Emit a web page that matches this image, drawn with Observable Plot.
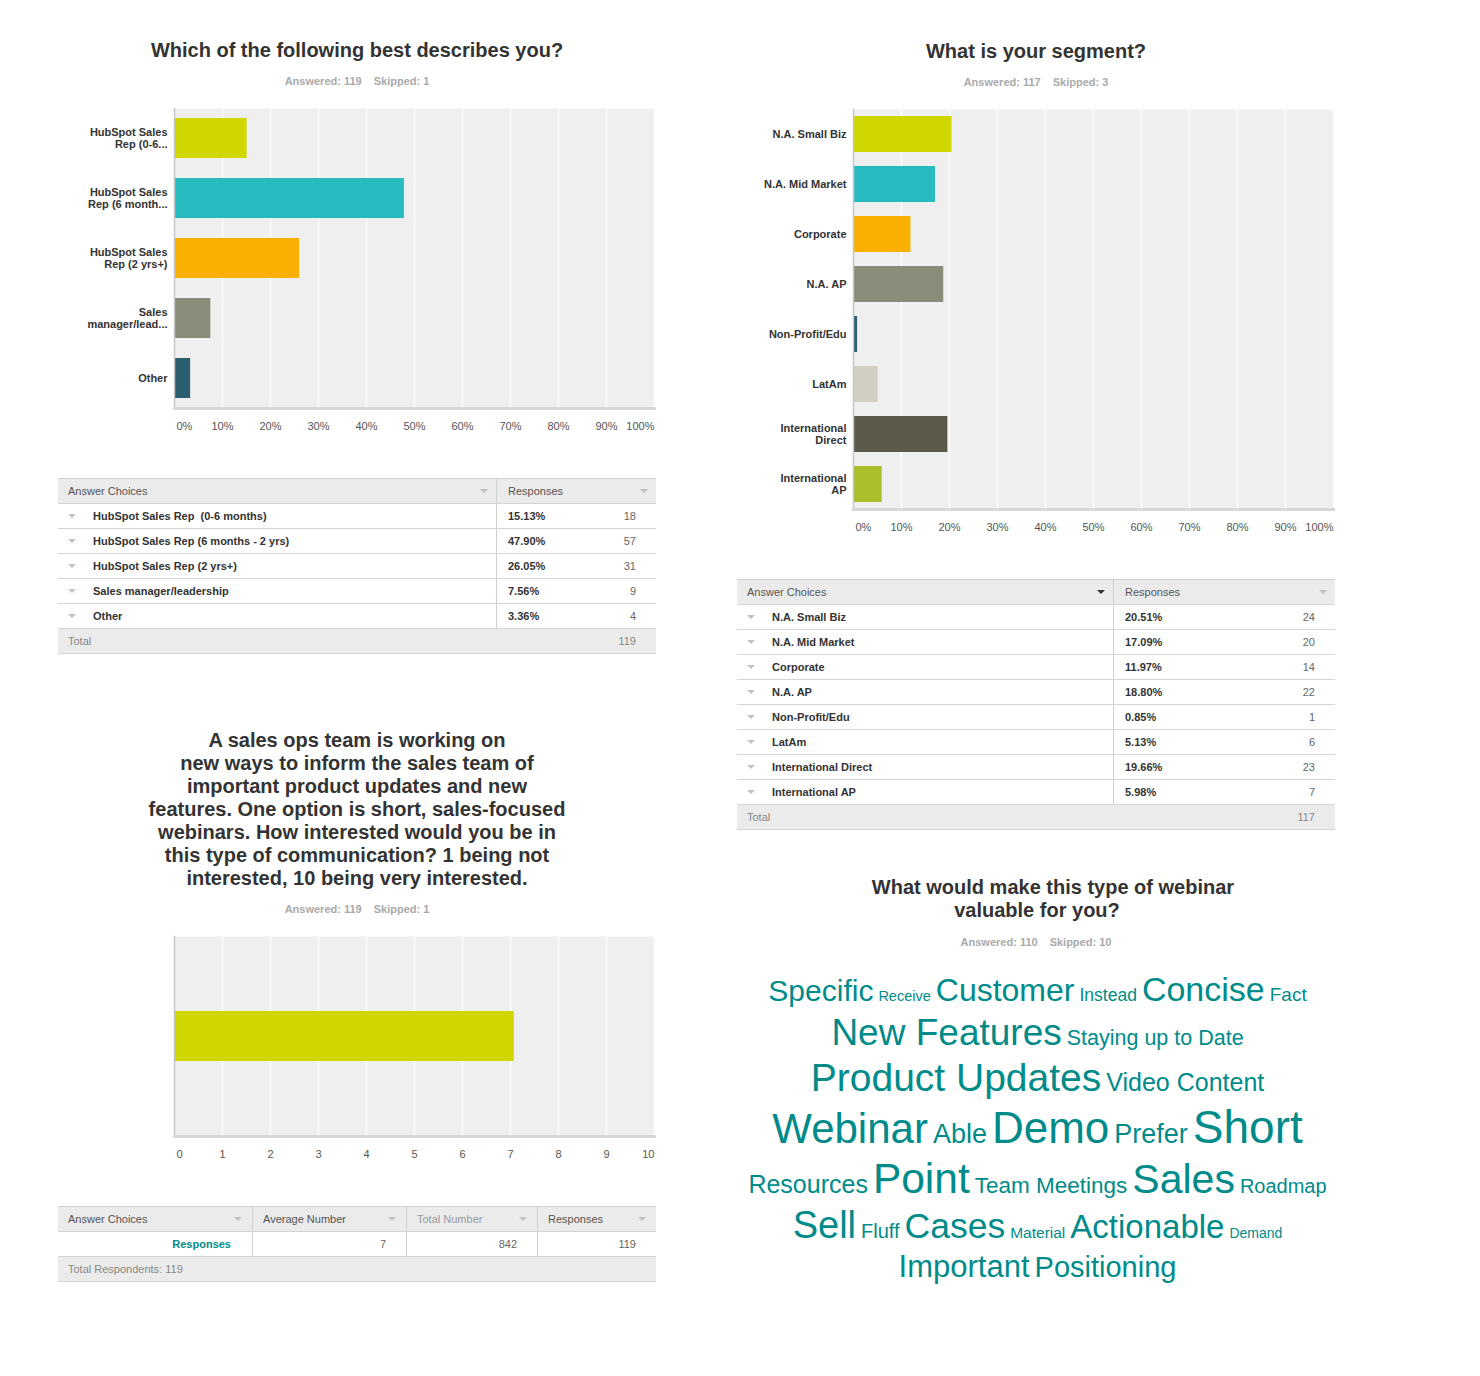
<!DOCTYPE html>
<html>
<head>
<meta charset="utf-8">
<script src="https://cdn.jsdelivr.net/npm/d3@7"></script>
<script src="https://cdn.jsdelivr.net/npm/@observablehq/plot@0.6"></script>
<style>
  body{margin:0;width:1480px;height:1376px;position:relative;background:#fff;font-family:"Liberation Sans",Arial,Helvetica,sans-serif;}
  .abs{position:absolute}
  .title{font-size:20px;font-weight:bold;color:#333;text-align:center;line-height:23px;width:600px}
  .sub{font-size:11px;font-weight:bold;color:#aaa;text-align:center;line-height:14px;width:600px}
  .sub span{margin:0 6px}
  .tbl{position:absolute;border-top:1px solid #cfcfcf;font-size:11px;color:#333}
  .row{display:flex;height:25px;box-sizing:border-box;border-bottom:1px solid #d4d4d4;line-height:24px;position:relative}
  .hdr,.tot{background:#ebebeb;color:#555}
  .tot{color:#888}
  .cell{position:relative;box-sizing:border-box;height:100%;padding-left:10px;white-space:pre}
  .sep{border-right:1px solid #cfcfcf}
  .tri{position:absolute;top:10px;width:0;height:0;border-left:4px solid transparent;border-right:4px solid transparent;border-top:4px solid #c2c2c2}
  .num{position:absolute;right:20px;color:#666;font-weight:normal}
  .lab{font-weight:bold;position:absolute;left:35px}
  svg{overflow:visible}
</style>
</head>
<body>
<div id="root"></div>
<script>
// ---------- DATA ----------
const q1Title = "Which of the following best describes you?";
const q1Answered = 119, q1Skipped = 1;
const q1Choices = ["HubSpot Sales Rep  (0-6 months)", "HubSpot Sales Rep (6 months - 2 yrs)", "HubSpot Sales Rep (2 yrs+)", "Sales manager/leadership", "Other"];
const q1AxisLabels = ["HubSpot Sales\nRep (0-6...", "HubSpot Sales\nRep (6 month...", "HubSpot Sales\nRep (2 yrs+)", "Sales\nmanager/lead...", "Other"];
const q1Percent = [15.13, 47.90, 26.05, 7.56, 3.36];
const q1Count = [18, 57, 31, 9, 4];
const q1Total = 119;

const q2Title = "What is your segment?";
const q2Answered = 117, q2Skipped = 3;
const q2Choices = ["N.A. Small Biz", "N.A. Mid Market", "Corporate", "N.A. AP", "Non-Profit/Edu", "LatAm", "International Direct", "International AP"];
const q2AxisLabels = ["N.A. Small Biz", "N.A. Mid Market", "Corporate", "N.A. AP", "Non-Profit/Edu", "LatAm", "International\nDirect", "International\nAP"];
const q2Percent = [20.51, 17.09, 11.97, 18.80, 0.85, 5.13, 19.66, 5.98];
const q2Count = [24, 20, 14, 22, 1, 6, 23, 7];
const q2Total = 117;

const q3TitleLines = ["A sales ops team is working on", "new ways to inform the sales team of", "important product updates and new", "features. One option is short, sales-focused", "webinars. How interested would you be in", "this type of communication? 1 being not", "interested, 10 being very interested."];
const q3Answered = 119, q3Skipped = 1;
const q3Category = ["Responses"];
const q3Average = [7.08];
const q3AverageShown = [7];
const q3TotalNumber = [842];
const q3Responses = [119];
const q3Respondents = 119;

const q4TitleLines = ["What would make this type of webinar", "valuable for you?"];
const q4Answered = 110, q4Skipped = 10;
const cloudWords = ["Specific","Receive","Customer","Instead","Concise","Fact","New Features","Staying up to Date","Product Updates","Video Content","Webinar","Able","Demo","Prefer","Short","Resources","Point","Team Meetings","Sales","Roadmap","Sell","Fluff","Cases","Material","Actionable","Demand","Important","Positioning"];
const cloudWeights = [30,14.5,32,17.5,34,19,37,21.5,39,25,42,27,44,27,46,25,42.5,22.5,41,20,38,20,35.5,15.5,33,14,31,29];

const pctTicks = [0,10,20,30,40,50,60,70,80,90,100];
const ratingTicks = [0,1,2,3,4,5,6,7,8,9,10];

// ---------- STYLE ----------
const FONT = '"Liberation Sans", Arial, Helvetica, sans-serif';
const q1Colors = ["#cfd600","#28bcc1","#f9b000","#8a8b79","#2b5e6e"];
const q2Colors = ["#cfd600","#28bcc1","#f9b000","#8a8b79","#2b5e6e","#d1cfc2","#5b5a4b","#a9be28"];
const q3Colors = ["#cfd600"];
const TEAL = "#008b8b";

const root = document.getElementById("root");
function place(node, left, top) {
  node.style.position = "absolute"; node.style.left = left + "px"; node.style.top = top + "px";
  root.appendChild(node); return node;
}
function htmlDiv(cls, html, left, top, extra) {
  const d = document.createElement("div"); d.className = cls; d.innerHTML = html;
  if (extra) Object.assign(d.style, extra);
  return place(d, left, top);
}
const subHTML = (a, s) => `<span>Answered: ${a}</span><span>Skipped: ${s}</span>`;

function hbar({cats, labels, values, colors, xMax, ticks, fmt, width, height, ml, mr, mt, mb, pi, po, showY}) {
  const data = cats.map((c, i) => ({c, v: values[i]}));
  const mid = ticks.slice(1, -1);
  const marks = [
    Plot.frame({fill: "#efefef", stroke: null}),
    Plot.gridX(ticks, {stroke: "#fff", strokeOpacity: 1, strokeWidth: 1.3}),
    Plot.barX(data, {x: "v", y: "c", fill: "c"}),
    Plot.frame({anchor: "left", stroke: "#c6c6c6", strokeWidth: 1.5}),
    Plot.frame({anchor: "bottom", stroke: "#d8d8d8", strokeWidth: 3}),
    Plot.axisX(mid, {tickSize: 0, tickPadding: 14, tickFormat: fmt, fontSize: 11, fill: "#555", label: null}),
    Plot.text([ticks[0]], {x: d => d, text: d => fmt(d), frameAnchor: "bottom", lineAnchor: "top", dy: 14, dx: 2, textAnchor: "start", fontSize: 11, fill: "#555"}),
    Plot.text([ticks[ticks.length - 1]], {x: d => d, text: d => fmt(d), frameAnchor: "bottom", lineAnchor: "top", dy: 14, textAnchor: "end", fontSize: 11, fill: "#555"})
  ];
  if (showY) marks.push(Plot.axisY({tickSize: 0, tickPadding: 7, tickFormat: c => labels[cats.indexOf(c)], fontSize: 11, fontWeight: "bold", fill: "#333", lineHeight: 1.1, label: null}));
  return Plot.plot({
    width, height, marginLeft: ml, marginRight: mr, marginTop: mt, marginBottom: mb,
    style: {fontFamily: FONT, fontSize: "11px", background: "transparent", overflow: "visible"},
    x: {domain: [0, xMax], label: null},
    y: {domain: cats, paddingInner: pi, paddingOuter: po, label: null, axis: showY ? undefined : null},
    color: {domain: cats, range: colors},
    marks
  });
}

function tri(left, right, color) {
  const pos = left != null ? `left:${left}px` : `right:${right}px`;
  return `<span class="tri" style="${pos};${color ? "border-top-color:" + color : ""}"></span>`;
}

function choiceTable({choices, pct, counts, total, w1, w2, hdrTriColor}) {
  let h = `<div class="row hdr"><div class="cell sep" style="width:${w1}px">Answer Choices${tri(null, 8, hdrTriColor)}</div><div class="cell" style="width:${w2}px;padding-left:11px">Responses${tri(null, 8)}</div></div>`;
  choices.forEach((c, i) => {
    h += `<div class="row"><div class="cell sep" style="width:${w1}px">${tri(10)}<span class="lab">${c}</span></div>` +
         `<div class="cell" style="width:${w2}px;padding-left:11px"><b>${pct[i].toFixed(2)}%</b><span class="num">${counts[i]}</span></div></div>`;
  });
  h += `<div class="row tot"><div class="cell" style="width:${w1 + w2}px">Total<span class="num" style="color:#888">${total}</span></div></div>`;
  const d = document.createElement("div"); d.className = "tbl"; d.style.width = (w1 + w2) + "px"; d.innerHTML = h;
  return d;
}

// ---------- PANEL 1 ----------
htmlDiv("title", q1Title, 57, 39);
htmlDiv("sub", subHTML(q1Answered, q1Skipped), 57, 74);
place(hbar({cats: q1Choices, labels: q1AxisLabels, values: q1Percent, colors: q1Colors, xMax: 100, ticks: pctTicks, fmt: d => d + "%",
  width: 602, height: 340, ml: 116, mr: 6, mt: 8, mb: 32, pi: 1/3, po: 1/6, showY: true}), 58, 100);
place(choiceTable({choices: q1Choices, pct: q1Percent, counts: q1Count, total: q1Total, w1: 439, w2: 159}), 58, 478);

// ---------- PANEL 2 ----------
htmlDiv("title", q2Title, 736, 40);
htmlDiv("sub", subHTML(q2Answered, q2Skipped), 736, 75);
place(hbar({cats: q2Choices, labels: q2AxisLabels, values: q2Percent, colors: q2Colors, xMax: 100, ticks: pctTicks, fmt: d => d + "%",
  width: 598, height: 440, ml: 116, mr: 2, mt: 8, mb: 32, pi: 0.28, po: 0.14, showY: true}), 737, 101);
place(choiceTable({choices: q2Choices, pct: q2Percent, counts: q2Count, total: q2Total, w1: 377, w2: 221, hdrTriColor: "#333"}), 737, 579);

// ---------- PANEL 3 ----------
htmlDiv("title", q3TitleLines.join("<br>"), 57, 729);
htmlDiv("sub", subHTML(q3Answered, q3Skipped), 57, 902);
place(hbar({cats: q3Category, labels: q3Category, values: q3Average, colors: q3Colors, xMax: 10, ticks: ratingTicks, fmt: d => String(d),
  width: 602, height: 240, ml: 116, mr: 6, mt: 8, mb: 32, pi: 0, po: 1.5, showY: false}), 58, 928);
(function () {
  const w = [195, 154, 131, 118];
  const heads = ["Answer Choices", "Average Number", "Total Number", "Responses"];
  let h = `<div class="row hdr">` + heads.map((t, i) =>
    `<div class="cell ${i < 3 ? "sep" : ""}" style="width:${w[i]}px;${i === 2 ? "color:#999" : ""}">${t}${tri(null, 10)}</div>`).join("") + `</div>`;
  q3Category.forEach((c, i) => {
    h += `<div class="row">` +
      `<div class="cell sep" style="width:${w[0]}px"><span class="num" style="right:21px;color:${TEAL};font-weight:bold">${c}</span></div>` +
      `<div class="cell sep" style="width:${w[1]}px"><span class="num">${q3AverageShown[i]}</span></div>` +
      `<div class="cell sep" style="width:${w[2]}px"><span class="num">${q3TotalNumber[i]}</span></div>` +
      `<div class="cell" style="width:${w[3]}px"><span class="num">${q3Responses[i]}</span></div></div>`;
  });
  h += `<div class="row tot"><div class="cell" style="width:598px">Total Respondents: ${q3Respondents}</div></div>`;
  const d = document.createElement("div"); d.className = "tbl"; d.style.width = "598px"; d.innerHTML = h;
  place(d, 58, 1206);
})();

// ---------- PANEL 4 (word cloud) ----------
htmlDiv("title", q4TitleLines[0], 753, 876);
htmlDiv("title", q4TitleLines[1], 737, 899);
htmlDiv("sub", subHTML(q4Answered, q4Skipped), 736, 935);
(function () {
  const W = 600, H = 340, center = 300, maxW = 605, gap = 5;
  const ctx = document.createElement("canvas").getContext("2d");
  const words = cloudWords.map((w, i) => {
    ctx.font = `${cloudWeights[i]}px ${FONT}`;
    return {word: w, size: cloudWeights[i], w: ctx.measureText(w).width};
  });
  const lines = []; let cur = [], curW = 0;
  for (const wd of words) {
    const nw = cur.length ? curW + gap + wd.w : wd.w;
    if (cur.length && nw > maxW) { lines.push({items: cur, width: curW}); cur = [wd]; curW = wd.w; }
    else { cur.push(wd); curW = nw; }
  }
  if (cur.length) lines.push({items: cur, width: curW});
  const placed = [];
  let base = 45;
  lines.forEach((ln, li) => {
    const maxS = d3.max(ln.items, d => d.size);
    if (li > 0) base += maxS * 0.9 + 11;
    let x = center - ln.width / 2;
    for (const it of ln.items) { placed.push({word: it.word, size: it.size, x, y: base}); x += it.w + gap; }
  });
  const svg = Plot.plot({
    width: W, height: H, margin: 0,
    style: {fontFamily: FONT, background: "transparent", overflow: "visible"},
    x: {type: "identity", axis: null}, y: {type: "identity", axis: null},
    marks: [Plot.text(placed, {x: "x", y: "y", text: "word", fontSize: d => d.size, textAnchor: "start", lineAnchor: "bottom", fill: TEAL})]
  });
  place(svg, 737, 955);
})();
</script>
</body>
</html>
